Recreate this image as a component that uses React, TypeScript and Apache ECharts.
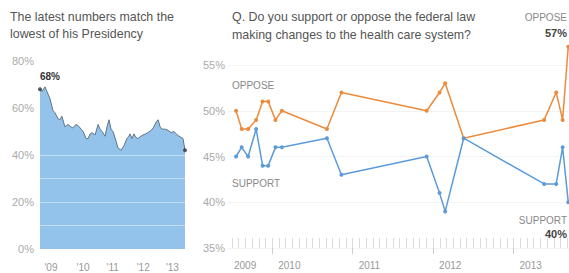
import React, { useEffect, useRef } from "react";
import * as echarts from "echarts";

// Left panel: presidential approval (decimal year, percent)
const approveDates = [
  2009.05, 2009.11, 2009.2, 2009.26, 2009.35, 2009.44, 2009.5, 2009.59, 2009.65, 2009.71,
  2009.8, 2009.89, 2009.98, 2010.04, 2010.13, 2010.2, 2010.29, 2010.35, 2010.44, 2010.5,
  2010.56, 2010.62, 2010.71, 2010.8, 2010.86, 2010.92, 2011.01, 2011.07, 2011.13, 2011.19,
  2011.25, 2011.34, 2011.4, 2011.49, 2011.58, 2011.67, 2011.73, 2011.76, 2011.82, 2011.88,
  2011.94, 2012.0, 2012.09, 2012.15, 2012.24, 2012.3, 2012.4, 2012.46, 2012.55, 2012.61,
  2012.67, 2012.73, 2012.82, 2012.91, 2013.0, 2013.09, 2013.15, 2013.24, 2013.3, 2013.36,
  2013.42,
];
const approveValues = [
  68, 67, 69, 67, 64, 59, 58, 55.5, 55, 56.5,
  52, 53, 52, 51.5, 53, 52.5, 51, 50, 47, 47,
  49, 49.5, 48.5, 53, 51, 50, 48, 52, 55, 51,
  50, 46, 43, 42, 44, 47, 48, 49, 47, 49,
  47.5, 47, 48, 48.5, 49, 49.5, 50.5, 51.5, 54, 55,
  52, 51, 51, 50.5, 49.5, 50, 49, 48, 47.5, 47,
  42,
];
const leftYearLabels = ["'09", "'10", "'11", "'12", "'13"];
const leftLabelPos = [2009.38, 2010.35, 2011.24, 2012.16, 2013.04];
const areaGridValues = [10, 20, 30, 40];

// Right panel: support / oppose the health care law
const pollDates = [
  2009.55, 2009.62, 2009.7, 2009.8, 2009.88, 2009.95, 2010.04, 2010.12, 2010.68,
  2010.86, 2011.92, 2012.08, 2012.15, 2012.38, 2013.38, 2013.53, 2013.61, 2013.68,
];
const opposeValues = [50, 48, 48, 49, 51, 51, 49, 50, 48, 52, 50, 52, 53, 47, 49, 52, 49, 57];
const supportValues = [45, 46, 45, 48, 44, 44, 46, 46, 47, 43, 45, 41, 39, 47, 42, 42, 46, 40];
const rightYearLabels = ["2009", "2010", "2011", "2012", "2013"];
const rightLabelPos = [2009.45, 2010, 2011, 2012, 2013];
const yearTicks = [2010, 2011, 2012, 2013];

export default function App() {
  const ref = useRef<HTMLDivElement>(null);
  useEffect(() => {
    const chart = echarts.init(ref.current!, null, { renderer: "svg" });
    const font = "'Liberation Sans', Arial, sans-serif";
    const months: number[] = [];
    for (let m = 6; m < 12 * 5; m++) {
      const v = 2009 + m / 12;
      if (v >= 2009.45 && v <= 2014) months.push(v);
    }
    const zip = (xs: number[], ys: number[]) => xs.map((x, i) => [x, ys[i]]);
    const last = approveValues.length - 1;
    const pl = pollDates.length - 1;
    const txt = (text: string, x: number, y: number, extra: any = {}) => ({
      type: "text",
      x,
      y,
      style: {
        text,
        fill: extra.fill || "#555",
        fontSize: extra.fontSize || 12.4,
        fontWeight: extra.fontWeight || "normal",
        fontFamily: font,
        textAlign: extra.align || "left",
        textVerticalAlign: "middle",
      },
    });
    chart.setOption({
      animation: false,
      textStyle: { fontFamily: font },
      grid: [
        { left: 40, top: 61, width: 146, height: 188 },
        { left: 228, top: 65, width: 366, height: 183 },
      ],
      xAxis: [
        {
          gridIndex: 0,
          type: "value",
          min: 2009.05,
          max: 2013.45,
          axisLine: { show: false },
          axisTick: { show: false },
          splitLine: { show: false },
          axisLabel: {
            customValues: leftLabelPos,
            formatter: (v: number) => leftYearLabels[Math.floor(v) - 2009],
            color: "#999",
            fontSize: 10,
            margin: 13,
          },
        },
        {
          gridIndex: 1,
          type: "value",
          min: 2009.45,
          max: 2014,
          axisLine: { show: false },
          splitLine: { show: false },
          axisTick: { show: true, customValues: yearTicks, length: 6, lineStyle: { color: "#ccc" } },
          axisLabel: {
            customValues: rightLabelPos,
            formatter: (v: number) => rightYearLabels[Math.floor(v) - 2009],
            align: "left",
            padding: [0, 0, 0, 6],
            color: "#999",
            fontSize: 10,
            margin: 12,
          },
        },
        {
          gridIndex: 1,
          type: "value",
          position: "bottom",
          min: 2009.45,
          max: 2014,
          axisLine: { show: false },
          splitLine: { show: false },
          axisLabel: { show: false },
          axisTick: {
            show: true,
            inside: true,
            customValues: months,
            length: 10,
            lineStyle: { color: "#dcdcdc" },
          },
        },
      ],
      yAxis: [
        {
          gridIndex: 0,
          type: "value",
          min: 0,
          max: 80,
          interval: 10,
          axisLine: { show: false },
          axisTick: { show: false },
          axisLabel: {
            formatter: (v: number) => (v % 20 === 0 ? v + "%" : ""),
            color: "#aaa",
            fontSize: 11,
            margin: 6,
          },
          splitLine: { show: false },
        },
        {
          gridIndex: 1,
          type: "value",
          min: 35,
          max: 55,
          interval: 5,
          axisLine: { show: false },
          axisTick: { show: false },
          axisLabel: { formatter: "{value}%", color: "#aaa", fontSize: 11, margin: 3 },
          splitLine: { lineStyle: { color: "#f3f3f3" } },
        },
      ],
      series: [
        {
          type: "line",
          xAxisIndex: 0,
          yAxisIndex: 0,
          data: zip(approveDates, approveValues),
          showSymbol: false,
          lineStyle: { color: "#5f7389", width: 1 },
          areaStyle: { color: "#93c3ea", opacity: 1 },
          markLine: {
            silent: true,
            symbol: "none",
            label: { show: false },
            lineStyle: { color: "rgba(255,255,255,0.45)", type: "solid", width: 1 },
            data: areaGridValues.map((v) => ({ yAxis: v })),
          },
        },
        {
          type: "scatter",
          xAxisIndex: 0,
          yAxisIndex: 0,
          data: [
            [approveDates[0], approveValues[0]],
            [approveDates[last], approveValues[last]],
          ],
          symbolSize: 4,
          itemStyle: { color: "#333" },
          clip: false,
          z: 4,
        },
        {
          type: "line",
          xAxisIndex: 1,
          yAxisIndex: 1,
          data: zip(pollDates, opposeValues),
          symbol: "circle",
          symbolSize: 4,
          clip: false,
          lineStyle: { color: "#ec8b3c", width: 1.5 },
          itemStyle: { color: "#ec8b3c" },
        },
        {
          type: "line",
          xAxisIndex: 1,
          yAxisIndex: 1,
          data: zip(pollDates, supportValues),
          symbol: "circle",
          symbolSize: 4,
          clip: false,
          lineStyle: { color: "#5b9bd8", width: 1.5 },
          itemStyle: { color: "#5b9bd8" },
        },
      ],
      graphic: [
        txt("The latest numbers match the", 10, 17),
        txt("lowest of his Presidency", 10, 34),
        txt("Q. Do you support or oppose the federal law", 232, 17),
        txt("making changes to the health care system?", 232, 35),
        txt(`${approveValues[0]}%`, 40, 76, { fill: "#333", fontSize: 10, fontWeight: "bold" }),
        txt(`${approveValues[last]}%`, 183, 165, { fill: "#444", fontSize: 10, fontWeight: "bold", align: "right" }),
        txt("APPROVE", 110, 192, { fill: "#6a7b8c", fontSize: 9, align: "center" }),
        txt("OPPOSE", 232, 85, { fill: "#888", fontSize: 10 }),
        txt("SUPPORT", 232, 183, { fill: "#888", fontSize: 10 }),
        txt("OPPOSE", 567, 17, { fill: "#888", fontSize: 10, align: "right" }),
        txt(`${opposeValues[pl]}%`, 567, 33, { fill: "#444", fontSize: 11, fontWeight: "bold", align: "right" }),
        txt("SUPPORT", 567, 220, { fill: "#888", fontSize: 10, align: "right" }),
        txt(`${supportValues[pl]}%`, 567, 234, { fill: "#444", fontSize: 11, fontWeight: "bold", align: "right" }),
      ],
    });
    return () => chart.dispose();
  }, []);
  return (
    <div
      style={{
        position: "fixed",
        left: 0,
        top: 0,
        width: 569,
        height: 273,
        overflow: "hidden",
        background: "#fff",
      }}
    >
      <div ref={ref} style={{ width: 600, height: 273 }} />
    </div>
  );
}
